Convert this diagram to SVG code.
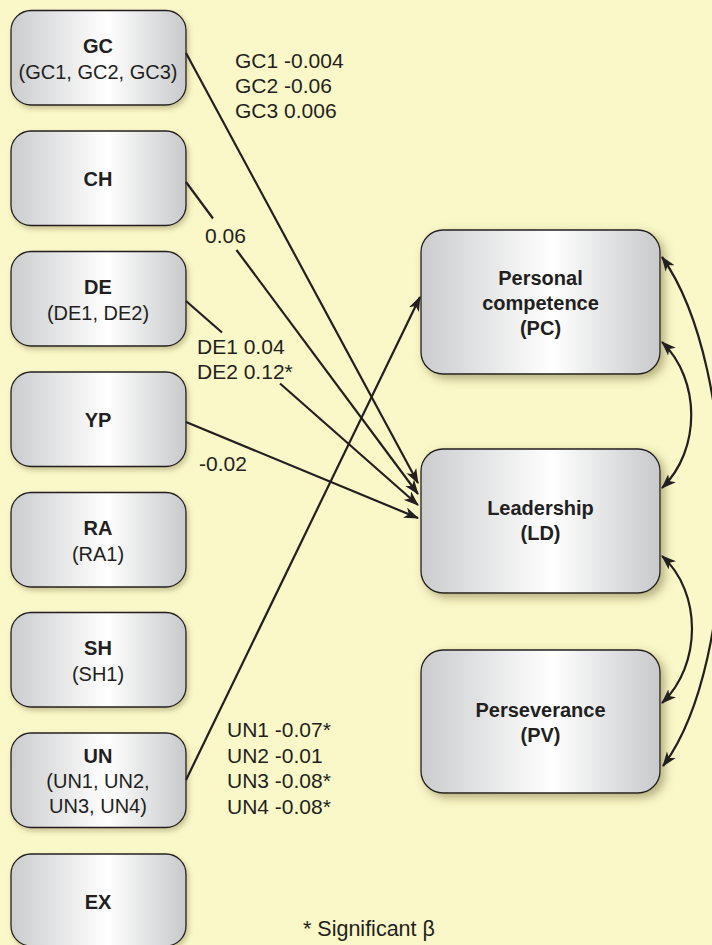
<svg xmlns="http://www.w3.org/2000/svg" width="712" height="945" viewBox="0 0 712 945">
<defs>
<linearGradient id="boxg" x1="0" y1="0" x2="1" y2="0">
<stop offset="0" stop-color="#cbccce"/>
<stop offset="0.55" stop-color="#ffffff"/>
<stop offset="1" stop-color="#c8c9cb"/>
</linearGradient>
<filter id="shL" x="-10%" y="-10%" width="125%" height="130%">
<feDropShadow dx="2" dy="3" stdDeviation="2.5" flood-color="#6b6430" flood-opacity="0.35"/>
</filter>
<filter id="shR" x="-10%" y="-10%" width="130%" height="130%">
<feDropShadow dx="4" dy="4" stdDeviation="5" flood-color="#6b6430" flood-opacity="0.5"/>
</filter>
<marker id="ah" markerUnits="userSpaceOnUse" markerWidth="16" markerHeight="12" refX="14" refY="5.5" orient="auto-start-reverse" viewBox="0 0 16 11">
<path d="M0,0 L15,5.5 L0,11 L4,5.5 z" fill="#231f20"/>
</marker>
</defs>
<style>
.bl rect{fill:url(#boxg);stroke:#231f20;stroke-width:1.3;filter:url(#shL)}
.br rect{fill:url(#boxg);stroke:#231f20;stroke-width:1.3;filter:url(#shR)}
text{font-family:"Liberation Sans",Arial,sans-serif;fill:#231f20;font-size:21px}
.t{font-weight:bold;font-size:20px;text-anchor:middle}
.s{text-anchor:middle;font-size:20px}
.c line,.c path{stroke:#231f20;stroke-width:2.2;fill:none}
</style>
<rect x="0" y="0" width="712" height="945" fill="#faf7c8"/>

<g id="GC" class="bl"><rect x="11" y="10.5" width="175" height="94.5" rx="20"/><text class="t" x="98" y="53">GC</text><text class="s" x="98" y="79">(GC1, GC2, GC3)</text></g>
<g id="CH" class="bl"><rect x="11" y="131" width="175" height="94.5" rx="20"/><text class="t" x="98" y="186">CH</text></g>
<g id="DE" class="bl"><rect x="11" y="251.5" width="175" height="94.5" rx="20"/><text class="t" x="98" y="294">DE</text><text class="s" x="98" y="320">(DE1, DE2)</text></g>
<g id="YP" class="bl"><rect x="11" y="372" width="175" height="94.5" rx="20"/><text class="t" x="98" y="427">YP</text></g>
<g id="RA" class="bl"><rect x="11" y="492.5" width="175" height="94.5" rx="20"/><text class="t" x="98" y="535">RA</text><text class="s" x="98" y="561">(RA1)</text></g>
<g id="SH" class="bl"><rect x="11" y="612.5" width="175" height="94.5" rx="20"/><text class="t" x="98" y="655">SH</text><text class="s" x="98" y="681">(SH1)</text></g>
<g id="UN" class="bl"><rect x="11" y="733" width="175" height="94.5" rx="20"/><text class="t" x="98" y="763">UN</text><text class="s" x="98" y="788">(UN1, UN2,</text><text class="s" x="98" y="813">UN3, UN4)</text></g>
<g id="EX" class="bl"><rect x="11" y="854" width="175" height="92" rx="20"/><text class="t" x="98" y="909">EX</text></g>

<g id="PC" class="br"><rect x="421" y="230" width="239" height="144" rx="22"/><text class="t" x="540.5" y="285">Personal</text><text class="t" x="540.5" y="310">competence</text><text class="t" x="540.5" y="335">(PC)</text></g>
<g id="LD" class="br"><rect x="421" y="449" width="239" height="144" rx="22"/><text class="t" x="540.5" y="515">Leadership</text><text class="t" x="540.5" y="540">(LD)</text></g>
<g id="PV" class="br"><rect x="421" y="650" width="239" height="143" rx="22"/><text class="t" x="540.5" y="717">Perseverance</text><text class="t" x="540.5" y="742">(PV)</text></g>

<g id="connectors" class="c">
<line x1="186" y1="53" x2="418" y2="483" marker-end="url(#ah)"/>
<line x1="186" y1="182" x2="213" y2="218.5"/>
<line x1="236.5" y1="250" x2="418" y2="494" marker-end="url(#ah)"/>
<line x1="186" y1="301" x2="222" y2="332.5"/>
<line x1="280" y1="383.5" x2="418" y2="505" marker-end="url(#ah)"/>
<line x1="186" y1="422" x2="418" y2="518" marker-end="url(#ah)"/>
<line x1="186" y1="780" x2="420" y2="297" marker-end="url(#ah)"/>
<path d="M662,342 C701,380 701,450 662,488" marker-start="url(#ah)" marker-end="url(#ah)"/>
<path d="M662,556 C702,592 702,665 662,703" marker-start="url(#ah)" marker-end="url(#ah)"/>
<path d="M662,257 C742,370 742,660 663,766" marker-start="url(#ah)" marker-end="url(#ah)"/>
</g>

<g id="labels">
<text x="235" y="67.5">GC1 -0.004</text>
<text x="235" y="92.5">GC2 -0.06</text>
<text x="235" y="117.5">GC3 0.006</text>
<text x="205" y="243">0.06</text>
<text x="197" y="354">DE1 0.04</text>
<text x="197" y="379">DE2 0.12*</text>
<text x="199" y="470.5">-0.02</text>
<text x="227" y="737">UN1 -0.07*</text>
<text x="227" y="762.5">UN2 -0.01</text>
<text x="227" y="788">UN3 -0.08*</text>
<text x="227" y="813.5">UN4 -0.08*</text>
<text x="303" y="936" style="font-size:21.5px">* Significant β</text>
</g>
</svg>
